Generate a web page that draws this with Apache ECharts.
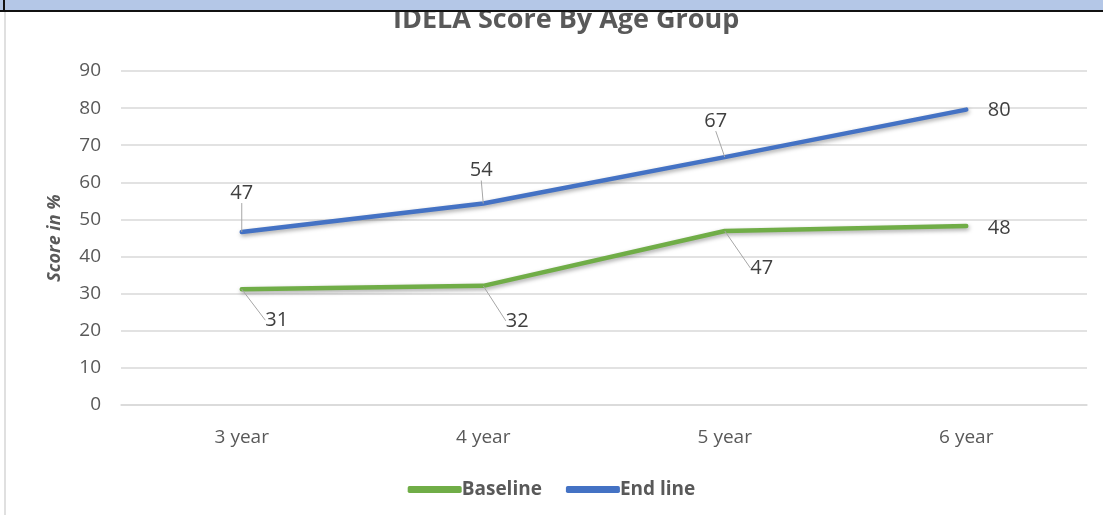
<!DOCTYPE html>
<html>
<head>
<meta charset="utf-8">
<style>html,body{margin:0;padding:0;background:#fff;}#c{width:1103px;height:515px;}</style>
<script src="https://cdn.jsdelivr.net/npm/echarts@6/dist/echarts.min.js"></script>
</head>
<body>
<div id="c"></div>
<script>
const categories = ['3 year', '4 year', '5 year', '6 year'];
const baseline = [31.2, 32.1, 46.9, 48.2];
const endline = [46.6, 54.3, 66.8, 79.6];
const yTicks = [0, 10, 20, 30, 40, 50, 60, 70, 80, 90];

// label offsets (px) from each point, per series
const baseOffsets = [[35, 31], [34, 35], [37, 37], [33, 2]];
const endOffsets = [[0, -39], [-2, -33], [-9, -36], [33, 1]];

const FONT = 'Open Sans';
const chart = echarts.init(document.getElementById('c'));
function mkSeries(name, data, color, offsets) {
  return {
    name: name,
    type: 'line',
    data: data.map((v, i) => ({ value: v, labelLine: { show: i < data.length - 1 } })),
    symbol: 'circle',
    symbolSize: 0.1,
    showSymbol: true,
    itemStyle: { color: color },
    lineStyle: { color: color, width: 4.5, cap: 'round', join: 'round',
      shadowColor: 'rgba(0,0,0,0.35)', shadowBlur: 4, shadowOffsetX: 1, shadowOffsetY: 2 },
    label: {
      show: true, position: 'inside', color: '#404040', fontSize: 20, fontFamily: FONT,
      formatter: p => Math.round(p.value)
    },
    labelLine: { show: true, lineStyle: { color: '#a6a6a6', width: 1 } },
    labelLayout: function (p) {
      const o = offsets[p.dataIndex];
      return { dx: o[0], dy: o[1] };
    },
    emphasis: { disabled: true },
    animation: false
  };
}
chart.setOption({
  animation: false,
  title: {
    text: 'IDELA Score By Age Group', left: 388, top: 2,
    textStyle: { fontFamily: FONT, fontSize: 27, fontWeight: 'bold', color: '#595959' }
  },
  legend: {
    bottom: 11, left: 'center', itemWidth: 54, itemHeight: 7, itemGap: 24, icon: 'roundRect',
    data: ['Baseline', 'End line'],
    textStyle: { fontFamily: FONT, fontSize: 19, fontWeight: 'bold', color: '#595959', padding: [0, 0, 0, -5] }
  },
  grid: { left: 121, right: 16, top: 71, bottom: 110, containLabel: false },
  xAxis: {
    type: 'category', data: categories, boundaryGap: true,
    axisLine: { lineStyle: { color: '#d9d9d9', width: 1.5 } },
    axisTick: { show: false },
    axisLabel: { color: '#595959', fontSize: 19, fontFamily: FONT, margin: 23 }
  },
  yAxis: {
    type: 'value', min: yTicks[0], max: yTicks[yTicks.length - 1], interval: 10,
    name: 'Score in %', nameLocation: 'middle', nameGap: 57,
    nameTextStyle: { fontFamily: FONT, fontSize: 18, fontWeight: 'bold', fontStyle: 'italic', color: '#595959' },
    axisLine: { show: false }, axisTick: { show: false },
    axisLabel: { color: '#595959', fontSize: 19, fontFamily: FONT, margin: 20 },
    splitLine: { lineStyle: { color: '#d9d9d9', width: 1.5 } }
  },
  graphic: [
    { type: 'rect', shape: { x: 0, y: 0, width: 1103, height: 11 }, style: { fill: '#b4c7e7' }, z: 100 },
    { type: 'rect', shape: { x: 0, y: 10, width: 1103, height: 2 }, style: { fill: '#111' }, z: 101 },
    { type: 'rect', shape: { x: 3, y: 0, width: 2, height: 12 }, style: { fill: '#111' }, z: 101 },
    { type: 'rect', shape: { x: 4, y: 12, width: 2, height: 503 }, style: { fill: '#e0e0e0' }, z: 101 }
  ],
  series: [
    mkSeries('Baseline', baseline, '#70ad47', baseOffsets),
    mkSeries('End line', endline, '#4472c4', endOffsets)
  ]
});
</script>
</body>
</html>
